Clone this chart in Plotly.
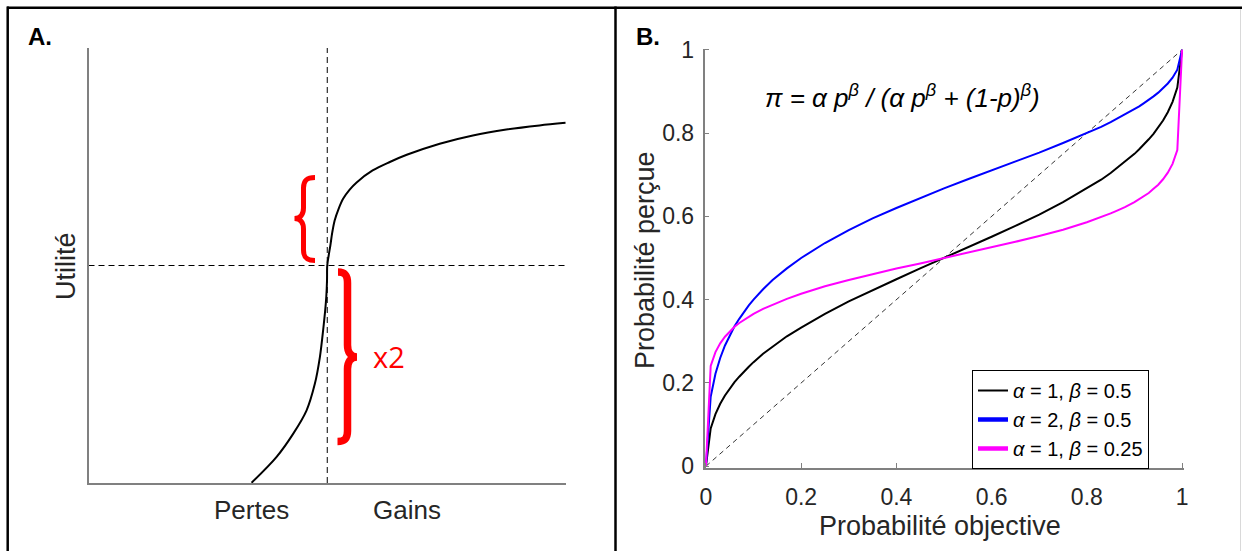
import plotly.graph_objects as go

W, H = 1242, 551

# ---------------- Panel A data (utility curve) ----------------
outcome = [-0.317, -0.213, -0.143, -0.087, -0.052, -0.031, -0.016, -0.009, -0.004, -0.001, 0.0,
           0.006, 0.013, 0.021, 0.031, 0.048, 0.067, 0.094, 0.123, 0.190, 0.262, 0.333,
           0.471, 0.610, 0.750, 0.889, 0.998]
utility = [-0.999, -0.881, -0.774, -0.667, -0.544, -0.422, -0.285, -0.211, -0.143, -0.069, 0.0,
           0.046, 0.092, 0.152, 0.207, 0.262, 0.308, 0.349, 0.382, 0.437, 0.476, 0.509,
           0.560, 0.598, 0.625, 0.644, 0.656]
ref_h_x = [-1, 1]
ref_h_y = [0, 0]
ref_v_x = [0, 0]
ref_v_y = [-1, 1]
labels_A = ["Pertes", "Gains"]

# ---------------- Panel B data (probability weighting) ----------------
p_obj = [0, 0.01, 0.02, 0.03, 0.04, 0.05, 0.06, 0.07, 0.08, 0.09, 0.1, 0.12, 0.14, 0.15, 0.17,
         0.2, 0.25, 0.3, 0.35, 0.4, 0.45, 0.5, 0.55, 0.6, 0.65, 0.7, 0.75, 0.8, 0.83, 0.85,
         0.86, 0.88, 0.9, 0.91, 0.92, 0.93, 0.94, 0.95, 0.96, 0.97, 0.98, 0.99, 1]
pi_a1_b05 = [0, 0.091, 0.125, 0.150, 0.170, 0.187, 0.202, 0.215, 0.228, 0.239, 0.25, 0.270,
             0.287, 0.296, 0.312, 0.333, 0.366, 0.396, 0.423, 0.449, 0.475, 0.5, 0.525, 0.551,
             0.577, 0.604, 0.634, 0.667, 0.688, 0.704, 0.713, 0.730, 0.75, 0.761, 0.772,
             0.785, 0.798, 0.813, 0.830, 0.850, 0.875, 0.909, 1]
pi_a2_b05 = [0, 0.167, 0.222, 0.260, 0.290, 0.315, 0.336, 0.354, 0.371, 0.386, 0.4, 0.425,
             0.447, 0.457, 0.475, 0.5, 0.536, 0.567, 0.595, 0.620, 0.644, 0.667, 0.689, 0.710,
             0.732, 0.753, 0.776, 0.8, 0.815, 0.826, 0.832, 0.844, 0.857, 0.864, 0.872,
             0.879, 0.888, 0.897, 0.907, 0.919, 0.933, 0.952, 1]
pi_a1_b025 = [0, 0.241, 0.274, 0.295, 0.311, 0.324, 0.335, 0.344, 0.352, 0.359, 0.366, 0.378,
              0.388, 0.393, 0.402, 0.414, 0.432, 0.447, 0.461, 0.475, 0.487, 0.5, 0.513, 0.525,
              0.539, 0.553, 0.568, 0.586, 0.598, 0.607, 0.612, 0.622, 0.634, 0.641, 0.648,
              0.656, 0.666, 0.676, 0.689, 0.705, 0.726, 0.759, 1]
diag_x = [0, 1]
diag_y = [0, 1]
series_names = ["<i>α</i> = 1, <i>β</i> = 0.5",
                "<i>α</i> = 2, <i>β</i> = 0.5",
                "<i>α</i> = 1, <i>β</i> = 0.25"]
series_colors = ["#000000", "#0000ff", "#ff00ff"]
tick_vals = [0, 0.2, 0.4, 0.6, 0.8, 1]
tick_text = ["0", "0.2", "0.4", "0.6", "0.8", "1"]


def px(xp):
    return xp / W


def py(yp):
    return 1 - yp / H


FONT = "Liberation Sans, Arial, sans-serif"
TXT = "#262626"
AX = "#808080"

fig = go.Figure()

# Panel A
fig.add_trace(go.Scatter(x=ref_h_x, y=ref_h_y, mode="lines", xaxis="x", yaxis="y",
                         line=dict(color="black", width=1, dash="6px,4px"), showlegend=False,
                         hoverinfo="skip"))
fig.add_trace(go.Scatter(x=ref_v_x, y=ref_v_y, mode="lines", xaxis="x", yaxis="y",
                         line=dict(color="black", width=1, dash="6px,4px"), showlegend=False,
                         hoverinfo="skip"))
fig.add_trace(go.Scatter(x=outcome, y=utility, mode="lines", xaxis="x", yaxis="y",
                         line=dict(color="black", width=2, shape="spline", smoothing=0.9),
                         showlegend=False))

# Panel B
fig.add_trace(go.Scatter(x=diag_x, y=diag_y, mode="lines", xaxis="x2", yaxis="y2",
                         line=dict(color="black", width=0.8, dash="5px,4px"), showlegend=False,
                         hoverinfo="skip"))
for ys, nm, col in zip([pi_a1_b05, pi_a2_b05, pi_a1_b025], series_names, series_colors):
    fig.add_trace(go.Scatter(x=p_obj, y=ys, mode="lines", xaxis="x2", yaxis="y2",
                             line=dict(color=col, width=2), showlegend=False, name=nm))
# legend entries (thicker samples as in the original legend)
for nm, col, w in zip(series_names, series_colors, [2, 4.5, 4.5]):
    fig.add_trace(go.Scatter(x=[None], y=[None], mode="lines", xaxis="x2", yaxis="y2",
                             line=dict(color=col, width=w), name=nm, showlegend=True))

shapes = []
# Frame lines
shapes.append(dict(type="line", xref="paper", yref="paper", x0=px(7), x1=px(1242), y0=py(7.7), y1=py(7.7),
                   line=dict(color="black", width=2.5)))
shapes.append(dict(type="line", xref="paper", yref="paper", x0=px(7.7), x1=px(7.7), y0=py(6.5), y1=py(551),
                   line=dict(color="black", width=2.5)))
shapes.append(dict(type="line", xref="paper", yref="paper", x0=px(615.5), x1=px(615.5), y0=py(6.5), y1=py(551),
                   line=dict(color="black", width=2.5)))
shapes.append(dict(type="line", xref="paper", yref="paper", x0=px(1240.5), x1=px(1240.5), y0=py(9), y1=py(551),
                   line=dict(color="#d9d9d9", width=1)))


def path_px(cmds):
    out = []
    for c in cmds:
        if isinstance(c, str):
            out.append(c)
        else:
            out.append("%.5f,%.5f" % (px(c[0]), py(c[1])))
    return " ".join(out)


# Red braces
brace_up = path_px(["M", (315, 177.5), "C", (306, 177.5), (303.5, 181), (303.5, 188),
                    "L", (303.5, 208), "C", (303.5, 214.5), (300.5, 218.5), (294.5, 218.5),
                    "C", (300.5, 218.5), (303.5, 222.5), (303.5, 229),
                    "L", (303.5, 250), "C", (303.5, 257), (306, 260.5), (315, 260.5)])
brace_dn = path_px(["M", (338, 272), "C", (345, 272), (347.5, 275), (347.5, 283),
                    "L", (347.5, 345), "C", (347.5, 352), (350.5, 357), (357, 357),
                    "C", (350.5, 357), (347.5, 362), (347.5, 369),
                    "L", (347.5, 431), "C", (347.5, 438.5), (345, 441.5), (337.5, 441.5)])
shapes.append(dict(type="path", xref="paper", yref="paper", path=brace_up,
                   line=dict(color="#ff0000", width=5)))
shapes.append(dict(type="path", xref="paper", yref="paper", path=brace_dn,
                   line=dict(color="#ff0000", width=7.5)))

annotations = [
    dict(text="<b>A.</b>", x=px(26), y=py(36), xref="paper", yref="paper", xanchor="left",
         yanchor="middle", showarrow=False, font=dict(family=FONT, size=24, color="black")),
    dict(text="<b>B.</b>", x=px(634), y=py(36.5), xref="paper", yref="paper", xanchor="left",
         yanchor="middle", showarrow=False, font=dict(family=FONT, size=24, color="black")),
    dict(text=labels_A[0], x=px(251), y=py(510), xref="paper", yref="paper", xanchor="center",
         yanchor="middle", showarrow=False, font=dict(family=FONT, size=26, color=TXT)),
    dict(text=labels_A[1], x=px(407), y=py(510), xref="paper", yref="paper", xanchor="center",
         yanchor="middle", showarrow=False, font=dict(family=FONT, size=26, color=TXT)),
    dict(text="Utilité", x=px(66), y=py(266), xref="paper", yref="paper", xanchor="center",
         yanchor="middle", textangle=-90, showarrow=False, font=dict(family=FONT, size=27, color=TXT)),
    dict(text="x2", x=px(389), y=py(356), xref="paper", yref="paper", xanchor="center",
         yanchor="middle", showarrow=False, font=dict(family="Open Sans, sans-serif", size=29, color="#ff0000")),
    dict(text="Probabilité objective", x=px(940), y=py(526), xref="paper", yref="paper",
         xanchor="center", yanchor="middle", showarrow=False,
         font=dict(family=FONT, size=27, color=TXT)),
    dict(text="Probabilité perçue", x=px(645), y=py(260), xref="paper", yref="paper",
         xanchor="center", yanchor="middle", textangle=-90, showarrow=False,
         font=dict(family=FONT, size=27, color=TXT)),
    dict(text="<i>π = α p<sup>β</sup> / (α p<sup>β</sup> + (1-p)<sup>β</sup>)</i>",
         x=px(902), y=py(96), xref="paper", yref="paper", xanchor="center", yanchor="middle",
         showarrow=False, font=dict(family=FONT, size=26, color="black")),
]

fig.update_layout(
    width=W, height=H,
    margin=dict(l=0, r=0, t=0, b=0, autoexpand=False),
    paper_bgcolor="white", plot_bgcolor="white",
    font=dict(family=FONT, color=TXT),
    xaxis=dict(domain=[px(88.5), px(566)], range=[-1, 1], showgrid=False, zeroline=False,
               showline=True, linecolor=AX, linewidth=1.5, showticklabels=False, ticks="",
               fixedrange=True, automargin=False),
    yaxis=dict(domain=[py(483), py(48)], range=[-1, 1], showgrid=False, zeroline=False,
               showline=True, linecolor=AX, linewidth=1.5, showticklabels=False, ticks="",
               fixedrange=True, automargin=False),
    xaxis2=dict(domain=[px(704.5), px(1183.5)], range=[-0.003, 1.003], anchor="y2",
                showgrid=False, zeroline=False, showline=True, linecolor=AX, linewidth=1.5,
                tickvals=tick_vals, ticktext=tick_text, ticks="inside", ticklen=5,
                tickcolor=AX, tickwidth=1, ticklabelstandoff=8,
                tickfont=dict(family=FONT, size=23, color=TXT), fixedrange=True, automargin=False),
    yaxis2=dict(domain=[py(467.5), py(48.5)], range=[-0.003, 1.003], anchor="x2",
                showgrid=False, zeroline=False, showline=True, linecolor=AX, linewidth=1.5,
                tickvals=tick_vals, ticktext=tick_text, ticks="inside", ticklen=5,
                tickcolor=AX, tickwidth=1, ticklabelstandoff=4,
                tickfont=dict(family=FONT, size=23, color=TXT), fixedrange=True, automargin=False),
    legend=dict(x=px(972), y=py(370), xanchor="left", yanchor="top",
                bgcolor="white", bordercolor="black", borderwidth=1,
                font=dict(family=FONT, size=20, color="black"),
                tracegroupgap=0, itemwidth=30),
    shapes=shapes,
    annotations=annotations,
)

fig.write_html("out.html", config={"displayModeBar": False},
               post_script="document.body.style.margin='0';document.body.style.overflow='hidden';"
                           "document.documentElement.style.overflow='hidden';")
